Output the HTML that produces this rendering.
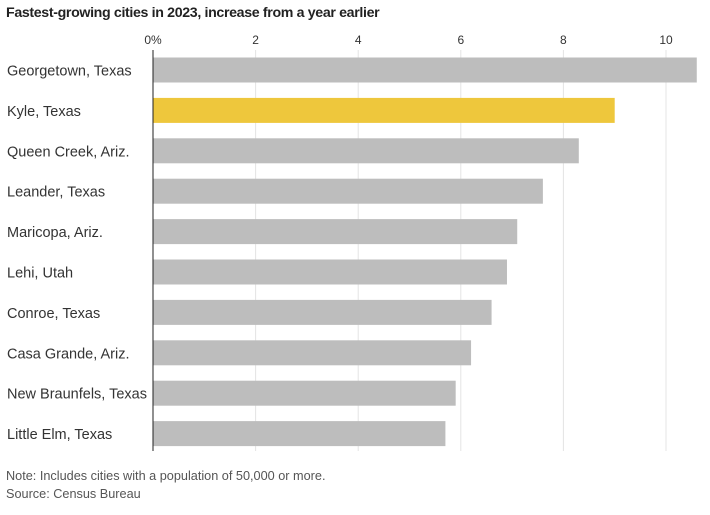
<!DOCTYPE html>
<html><head><meta charset="utf-8"><style>
body{margin:0;background:#fff;font-family:"Liberation Sans Narrow","Liberation Sans",sans-serif;}
svg text{font-family:"Liberation Sans Narrow","Liberation Sans",sans-serif;}
</style></head><body>
<svg width="710" height="510">
<text x="6" y="17" font-size="14.2" font-weight="bold" letter-spacing="-0.35" fill="#222">Fastest-growing cities in 2023, increase from a year earlier</text>
<g id="grid"></g><g id="bars"></g>
<line x1="153" x2="153" y1="50" y2="451" stroke="#222" stroke-width="1"/>
<text x="6" y="480" font-size="12.7" fill="#555">Note: Includes cities with a population of 50,000 or more.</text>
<text x="6" y="498" font-size="12.7" fill="#555">Source: Census Bureau</text>
</svg>
<script>
const cities=["Georgetown, Texas","Kyle, Texas","Queen Creek, Ariz.","Leander, Texas","Maricopa, Ariz.","Lehi, Utah","Conroe, Texas","Casa Grande, Ariz.","New Braunfels, Texas","Little Elm, Texas"];
const values=[10.6,9.0,8.3,7.6,7.1,6.9,6.6,6.2,5.9,5.7];
const ticks=[0,2,4,6,8,10];
const tickLabels=["0%","2","4","6","8","10"];
const highlight="Kyle, Texas";
const NS="http://www.w3.org/2000/svg";
const x=v=>153+v*51.3;
const y=i=>57.5+i*40.4;
const grid=document.getElementById('grid'),bars=document.getElementById('bars');
ticks.forEach((t,i)=>{
 if(t>0){const l=document.createElementNS(NS,'line');
 l.setAttribute('x1',x(t));l.setAttribute('x2',x(t));l.setAttribute('y1',50);l.setAttribute('y2',451);l.setAttribute('stroke','#e4e4e4');
 
 
 grid.appendChild(l);}
 const tx=document.createElementNS(NS,'text');
 tx.setAttribute('x',x(t));tx.setAttribute('y',44);tx.setAttribute('text-anchor','middle');tx.setAttribute('font-size','12');tx.setAttribute('fill','#333');
 tx.textContent=tickLabels[i];
 
 
 grid.appendChild(tx);
});
cities.forEach((c,i)=>{
 const r=document.createElementNS(NS,'rect');
 r.setAttribute('x',x(0));r.setAttribute('y',y(i));r.setAttribute('width',x(values[i])-x(0));r.setAttribute('height',25);
 r.setAttribute('fill',c===highlight?'#eec73c':'#bdbdbd');
 
 
 bars.appendChild(r);
 const t=document.createElementNS(NS,'text');
 t.setAttribute('x',7);t.setAttribute('y',y(i)+18);t.setAttribute('font-size','14.5');t.setAttribute('fill','#333');
 t.textContent=c;
 
 
 bars.appendChild(t);
});
</script>
</body></html>
